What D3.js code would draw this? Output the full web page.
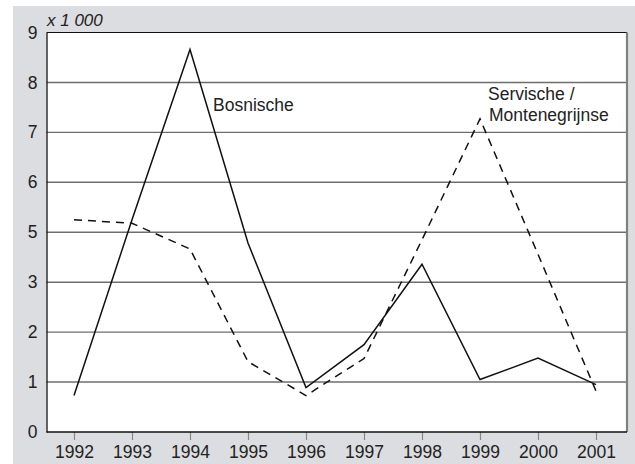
<!DOCTYPE html>
<html>
<head>
<meta charset="utf-8">
<script src="https://cdn.jsdelivr.net/npm/d3@7"></script>
<style>
  body { margin: 0; background: #fff; }
  text { font-family: "Liberation Sans", Arial, sans-serif; fill: #222; }
</style>
</head>
<body>
<svg width="635" height="464"></svg>
<script>
// jaren en waarden (x 1 000)
var years = [1992, 1993, 1994, 1995, 1996, 1997, 1998, 1999, 2000, 2001]
var bosnische = [0.73, 5.25, 8.66, 4.57, 0.89, 1.75, 3.72, 1.05, 1.48, 0.95]
var servische = [5.25, 5.18, 4.33, 1.41, 0.73, 1.47, 4.70, 7.27, 4.12, 0.82]
// de as-labels zoals ze in het origineel staan (de 4 ontbreekt)
var yTicks = [0, 1, 2, 3, 5, 6, 7, 8, 9]

var svg = d3.select("svg")

// let op: "top" is een gereserveerde global in de browser
var plotLeft = 46.5, plotRight = 627, plotTop = 32.5, plotBottom = 432
var step = (plotBottom - plotTop) / (yTicks.length - 1)

// grijze achtergrond
svg.append("rect")
  .attr("x", 13).attr("y", 6)
  .attr("width", 635 - 13).attr("height", 464 - 6)
  .style("fill", "#dcdde0")

// wit plotvlak
svg.append("rect")
  .attr("x", plotLeft).attr("y", plotTop)
  .attr("width", plotRight - plotLeft).attr("height", plotBottom - plotTop)
  .style("fill", "#fff")

var x = d3.scalePoint().domain(years).range([74, 596])

// polylineaire schaal zodat elke label op zijn eigen lijn staat
var y = d3.scaleLinear()
  .domain(yTicks)
  .range(yTicks.map(function(d, i) { return plotBottom - i * step }))

// rasterlijnen
svg.selectAll("line.grid")
  .data(yTicks.filter(function(d) { return d > 0 && d < 9 }))
  .enter().append("line")
    .attr("class", "grid")
    .attr("x1", plotLeft).attr("x2", plotRight)
    .attr("y1", function(d) { return y(d) })
    .attr("y2", function(d) { return y(d) })
    .style("stroke", "#6e6e6e")
    .style("stroke-width", 1.4)

// rand: boven zwart, rechts grijs
svg.append("line")
  .attr("x1", plotLeft).attr("x2", plotRight)
  .attr("y1", plotTop).attr("y2", plotTop)
  .style("stroke", "#111").style("stroke-width", 1.2)
svg.append("line")
  .attr("x1", plotRight).attr("x2", plotRight)
  .attr("y1", plotTop).attr("y2", plotBottom)
  .style("stroke", "#808080").style("stroke-width", 2.2)

// y-as
var yAxis = svg.append("g")
  .attr("transform", "translate(" + plotLeft + ",0)")
  .call(d3.axisLeft(y).tickValues(yTicks).tickSize(0).tickPadding(9).tickFormat(d3.format("d")))
yAxis.select(".domain").style("stroke", "#111").style("stroke-width", 1.3)
yAxis.selectAll("text")
  .style("font-size", "17.5px")
  .style("fill", "#222")

// x-as
var xAxis = svg.append("g")
  .attr("transform", "translate(0," + plotBottom + ")")
  .call(d3.axisBottom(x).tickSize(8).tickPadding(6).tickFormat(d3.format("d")))
xAxis.select(".domain").remove()
xAxis.selectAll(".tick line").style("stroke", "#888").style("stroke-width", 1.2)
xAxis.selectAll("text")
  .style("font-size", "17.5px")
  .style("fill", "#222")
svg.append("line")
  .attr("x1", plotLeft).attr("x2", plotRight)
  .attr("y1", plotBottom).attr("y2", plotBottom)
  .style("stroke", "#111").style("stroke-width", 1.3)

var line = d3.line()
  .x(function(d, i) { return x(years[i]) })
  .y(function(d) { return y(d) })

svg.append("path")
  .datum(servische)
  .attr("d", line)
  .style("fill", "none")
  .style("stroke", "#111")
  .style("stroke-width", 1.5)
  .style("stroke-dasharray", "8,6")

svg.append("path")
  .datum(bosnische)
  .attr("d", line)
  .style("fill", "none")
  .style("stroke", "#111")
  .style("stroke-width", 1.5)

// eenheid
svg.append("text")
  .attr("x", 47).attr("y", 26)
  .style("font-size", "17px")
  .style("font-style", "italic")
  .text("x 1 000")

// labels bij de lijnen
svg.append("text")
  .attr("x", 213).attr("y", 111)
  .style("font-size", "17.5px")
  .text("Bosnische")

svg.append("text")
  .attr("x", 488).attr("y", 100)
  .style("font-size", "17.5px")
  .text("Servische /")
svg.append("text")
  .attr("x", 489).attr("y", 121)
  .style("font-size", "17.5px")
  .text("Montenegrijnse")
</script>
</body>
</html>
